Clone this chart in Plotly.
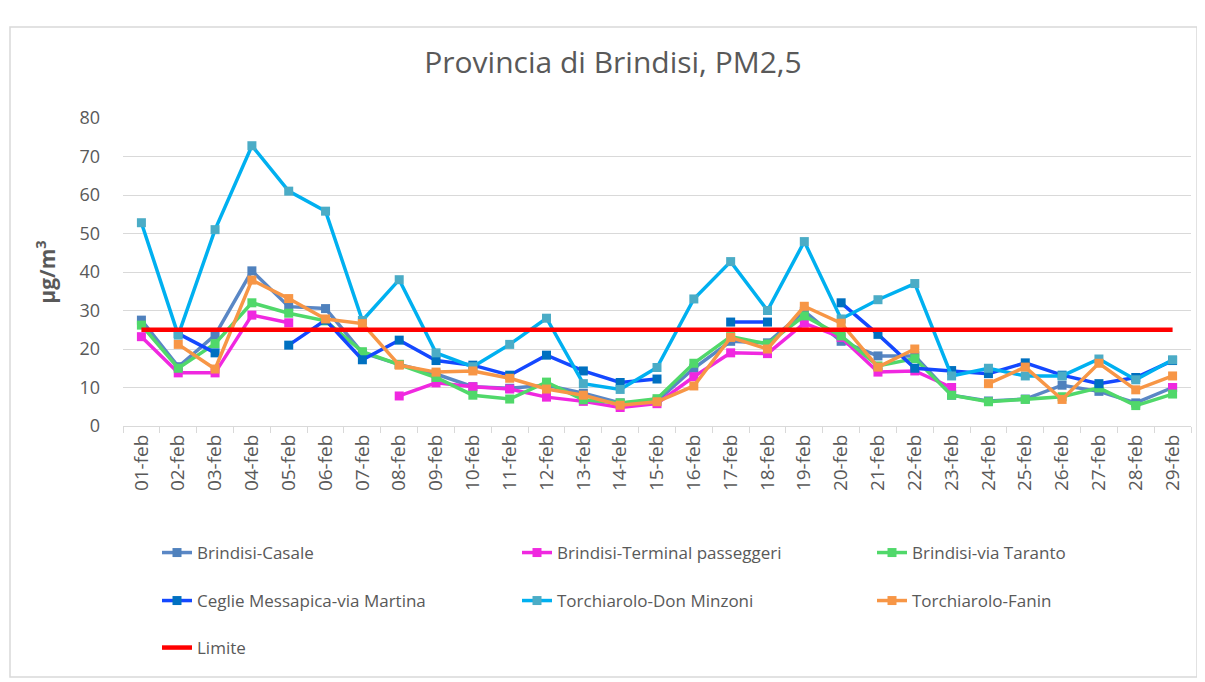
import plotly.graph_objects as go

dates = [f"{d:02d}-feb" for d in range(1, 30)]

casale = [27.5, 15.4, 23.6, 40.3, 31, 30.5, 19, 16, 13.5, 10.2, 9.8, 10.6, 8.5, 6, 6.5,
          15, 22, 21.6, 29.8, 22, 18.2, 18.2, 8, 6.5, 7, 10.6, 9, 6, 10]
terminal = [23.2, 13.8, 13.8, 28.8, 26.8, None, None, 7.8, 11.2, 10.2, 9.6, 7.5, 6.4, 4.8, 5.8,
            12.8, 19, 18.8, 26.7, 23, 14, 14.3, 10, None, None, None, None, None, 10]
taranto = [26.2, 15, 21.4, 32, 29.3, 27.3, 19.3, 16, 12.6, 8, 7, 11.4, 6.8, 6, 7.1,
           16.3, 23.2, 21.3, 28.6, 23.4, 15.6, 17.5, 8, 6.3, 6.9, 7.6, 9.9, 5.3, 8.3]
ceglie = [None, 24, 19, None, 21, 27.5, 17.2, 22.3, 17, 15.8, 13.2, 18.4, 14.3, 11.3, 12.2,
          None, 27, 27, None, 32, 23.8, 15, 14.4, 13.6, 16.4, 13.2, 11, 12.6, 17]
minzoni = [52.8, 23.6, 51, 72.8, 61, 55.8, 27.4, 38, 19, 15.4, 21.2, 28, 11, 9.5, 15.2,
           33, 42.7, 30, 47.9, 27.8, 32.8, 37, 13, 15, 13, 13, 17.4, 12, 17.2]
fanin = [None, 21.2, 14.8, 37.9, 33.1, 27.8, 26.6, 15.8, 14, 14.3, 12.4, 9.6, 8, 5.4, 6.3,
         10.4, 23, 20, 31.1, 26.7, 15.3, 20, None, 11, 15.3, 6.9, 16.3, 9.4, 13]
limite = [25] * 29

FONT = "Open Sans"
GRAY = "#595959"
OFF = 8  # page body margin
W, H = 1197, 674
L, R, T, B = 123 - OFF, 14, 118 - OFF, 256
pw, ph = W - L - R, H - T - B


def px_x(x):  # page pixel -> paper
    return (x - OFF - L) / pw


def px_y(y):
    return (H - B - (y - OFF)) / ph


# legend slots (page pixels: legend box left, row centre)
col_x = [157, 517, 872]
row_y = [553, 601, 648]

series = [
    ("Brindisi-Casale", casale, "#5a87c5", "#4f81bd"),
    ("Brindisi-Terminal passeggeri", terminal, "#f028e0", "#f028e0"),
    ("Brindisi-via Taranto", taranto, "#50d86a", "#50d86a"),
    ("Ceglie Messapica-via Martina", ceglie, "#1448ff", "#0070c0"),
    ("Torchiarolo-Don Minzoni", minzoni, "#00b0f0", "#4bacc6"),
    ("Torchiarolo-Fanin", fanin, "#f79646", "#f79646"),
]

fig = go.Figure()
legends = {}
for i, (name, vals, lc, mc) in enumerate(series):
    key = "legend" if i == 0 else f"legend{i + 1}"
    fig.add_trace(go.Scatter(
        x=dates, y=vals, name=name, mode="lines+markers",
        line=dict(color=lc, width=3.5),
        marker=dict(symbol="square", size=9, color=mc),
        legend=key,
    ))
    legends[key] = (col_x[i % 3], row_y[i // 3])
fig.add_trace(go.Scatter(
    x=dates, y=limite, name="Limite", mode="lines",
    line=dict(color="#ff0000", width=4.5), legend="legend7",
))
legends["legend7"] = (col_x[0], row_y[2])

leg_layout = {}
for key, (lx, ly) in legends.items():
    leg_layout[key] = dict(x=px_x(lx), y=px_y(ly), xanchor="left", yanchor="middle",
                           orientation="v",
                           font=dict(family=FONT, size=17, color=GRAY),
                           bgcolor="rgba(0,0,0,0)")

fig.update_layout(
    width=W, height=H,
    margin=dict(l=L, r=R, t=T, b=B),
    paper_bgcolor="white", plot_bgcolor="white",
    font=dict(family=FONT, color=GRAY),
    title=dict(text="Provincia di Brindisi, PM2,5", x=(613 - OFF) / W, xref="container",
               xanchor="center", y=1 - (62 - OFF) / H, yref="container", yanchor="middle",
               font=dict(family=FONT, size=30, color=GRAY)),
    showlegend=True,
    xaxis=dict(type="category", tickangle=-90, tickson="boundaries",
               ticks="outside", ticklen=6, tickcolor="#d9d9d9",
               showline=True, linecolor="#d9d9d9", linewidth=1,
               showgrid=False, tickfont=dict(family=FONT, size=19, color=GRAY),
               range=[-0.5, 28.5]),
    yaxis=dict(range=[0, 80], dtick=10, showgrid=True, gridcolor="#d9d9d9",
               gridwidth=1, zeroline=False, showline=False,
               tickfont=dict(family=FONT, size=18, color=GRAY),
               ticklabelstandoff=22,
               title=dict(text="<b>μg/m<sup>3</sup></b>", standoff=18,
                          font=dict(family=FONT, size=21, color=GRAY))),
    shapes=[dict(type="rect", xref="paper", yref="paper",
                 x0=px_x(10), x1=px_x(1197), y0=px_y(677), y1=px_y(27),
                 line=dict(color="#d9d9d9", width=1.5), fillcolor="rgba(0,0,0,0)",
                 layer="below")],
    **leg_layout,
)

fig.write_html("out.html")
